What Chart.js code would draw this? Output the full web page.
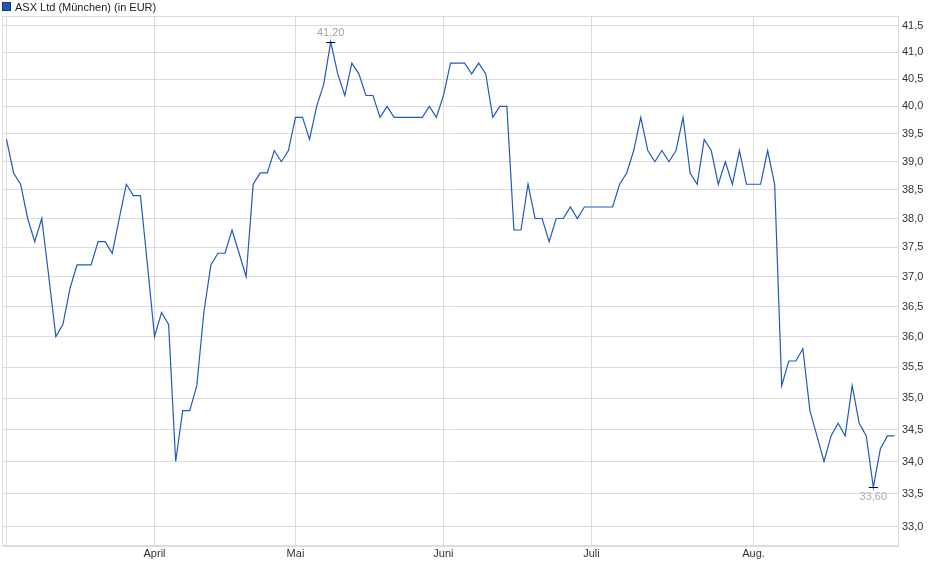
<!DOCTYPE html>
<html>
<head>
<meta charset="utf-8">
<script src="https://cdn.jsdelivr.net/npm/chart.js@4.4.1/dist/chart.umd.min.js"></script>
<style>
html,body{margin:0;padding:0;background:#fff}
#wrap{width:940px;height:579px;position:relative}
</style>
</head>
<body>
<div id="wrap"><canvas id="c"></canvas></div>
<script>
const seriesName = 'ASX Ltd (München) (in EUR)';

const dates = [
'03.03.2025','04.03.2025','05.03.2025','06.03.2025','07.03.2025','10.03.2025','11.03.2025','12.03.2025','13.03.2025','14.03.2025',
'17.03.2025','18.03.2025','19.03.2025','20.03.2025','21.03.2025','24.03.2025','25.03.2025','26.03.2025','27.03.2025','28.03.2025','31.03.2025',
'01.04.2025','02.04.2025','03.04.2025','04.04.2025','07.04.2025','08.04.2025','09.04.2025','10.04.2025','11.04.2025',
'14.04.2025','15.04.2025','16.04.2025','17.04.2025','22.04.2025','23.04.2025','24.04.2025','25.04.2025','28.04.2025','29.04.2025','30.04.2025',
'02.05.2025','05.05.2025','06.05.2025','07.05.2025','08.05.2025','09.05.2025','12.05.2025','13.05.2025','14.05.2025','15.05.2025','16.05.2025',
'19.05.2025','20.05.2025','21.05.2025','22.05.2025','23.05.2025','26.05.2025','27.05.2025','28.05.2025','29.05.2025','30.05.2025',
'02.06.2025','03.06.2025','04.06.2025','05.06.2025','06.06.2025','09.06.2025','10.06.2025','11.06.2025','12.06.2025','13.06.2025',
'16.06.2025','17.06.2025','18.06.2025','19.06.2025','20.06.2025','23.06.2025','24.06.2025','25.06.2025','26.06.2025','27.06.2025','30.06.2025',
'01.07.2025','02.07.2025','03.07.2025','04.07.2025','07.07.2025','08.07.2025','09.07.2025','10.07.2025','11.07.2025',
'14.07.2025','15.07.2025','16.07.2025','17.07.2025','18.07.2025','21.07.2025','22.07.2025','23.07.2025','24.07.2025','25.07.2025',
'28.07.2025','29.07.2025','30.07.2025','31.07.2025',
'01.08.2025','04.08.2025','05.08.2025','06.08.2025','07.08.2025','08.08.2025','11.08.2025','12.08.2025','13.08.2025','14.08.2025','15.08.2025',
'18.08.2025','19.08.2025','20.08.2025','21.08.2025','22.08.2025','25.08.2025','26.08.2025','27.08.2025','28.08.2025','29.08.2025'
];

const prices = [
39.4, 38.8, 38.6, 38.0, 37.6, 38.0, 37.0, 36.0, 36.2, 36.8,
37.2, 37.2, 37.2, 37.6, 37.6, 37.4, 38.0, 38.6, 38.4, 38.4,
37.2, 36.0, 36.4, 36.2, 34.0, 34.8, 34.8, 35.2, 36.4, 37.2,
37.4, 37.4, 37.8, 37.4, 37.0, 38.6, 38.8, 38.8, 39.2, 39.0,
39.2, 39.8, 39.8, 39.4, 40.0, 40.4, 41.2, 40.6, 40.2, 40.8,
40.6, 40.2, 40.2, 39.8, 40.0, 39.8, 39.8, 39.8, 39.8, 39.8,
40.0, 39.8, 40.2, 40.8, 40.8, 40.8, 40.6, 40.8, 40.6, 39.8,
40.0, 40.0, 37.8, 37.8, 38.6, 38.0, 38.0, 37.6, 38.0, 38.0,
38.2, 38.0, 38.2, 38.2, 38.2, 38.2, 38.2, 38.6, 38.8, 39.2,
39.8, 39.2, 39.0, 39.2, 39.0, 39.2, 39.8, 38.8, 38.6, 39.4,
39.2, 38.6, 39.0, 38.6, 39.2, 38.6, 38.6, 38.6, 39.2, 38.6,
35.2, 35.6, 35.6, 35.8, 34.8, 34.4, 34.0, 34.4, 34.6, 34.4,
35.2, 34.6, 34.4, 33.6, 34.2, 34.4, 34.4
];

const yTickValues = [33.0, 33.5, 34.0, 34.5, 35.0, 35.5, 36.0, 36.5, 37.0, 37.5, 38.0, 38.5, 39.0, 39.5, 40.0, 40.5, 41.0, 41.5];
const monthKeys = ['03', '04', '05', '06', '07', '08'];
const monthLabels = ['', 'April', 'Mai', 'Juni', 'Juli', 'Aug.'];
const yMin = 32.71;
const yMax = 41.69;

const FONT = "'Liberation Sans', Arial, sans-serif";
const GRID = '#dcdcdc';
const LINE = '#1f59c2';

const monthStartIdx = monthKeys.map(k => dates.findIndex(d => d.slice(3, 5) === k));
const fmt = (v, n) => Number(v).toFixed(n).replace('.', ',');

const decor = {
  id: 'decor',
  afterDatasetsDraw(chart) {
    const ctx = chart.ctx;
    const xs = chart.scales.x, ys = chart.scales.y;
    const data = chart.data.datasets[0].data;
    let iMax = 0, iMin = 0;
    data.forEach((v, i) => { if (v > data[iMax]) iMax = i; if (v < data[iMin]) iMin = i; });
    ctx.save();
    ctx.font = '11px ' + FONT;
    ctx.textAlign = 'center';
    ctx.textBaseline = 'middle';
    const mark = (i, above, color) => {
      const px = xs.getPixelForValue(i);
      const py = ys.getPixelForValue(data[i]);
      ctx.strokeStyle = '#000';
      ctx.lineWidth = 1;
      ctx.beginPath();
      ctx.moveTo(px - 4.5, Math.round(py) + 0.5);
      ctx.lineTo(px + 4.5, Math.round(py) + 0.5);
      ctx.stroke();
      ctx.fillStyle = color;
      ctx.fillText(fmt(data[i], 2), px, above ? py - 8.5 : py + 10);
    };
    mark(iMax, true, '#ab9f94');
    mark(iMin, false, '#a7b0ba');
    ctx.restore();
  },
  afterDraw(chart) {
    const ctx = chart.ctx;
    const a = chart.chartArea;
    ctx.save();
    ctx.strokeStyle = GRID;
    ctx.lineWidth = 1;
    ctx.strokeRect(Math.round(a.left) - 0.5, Math.round(a.top) + 0.5, Math.round(a.right - a.left) + 1, Math.round(a.bottom - a.top) - 1);
    // legend
    ctx.fillStyle = '#2157bd';
    ctx.fillRect(3, 3, 7, 7);
    ctx.strokeStyle = '#1a3468';
    ctx.strokeRect(2.5, 2.5, 8, 8);
    ctx.fillStyle = '#222';
    ctx.font = '11px ' + FONT;
    ctx.textAlign = 'left';
    ctx.textBaseline = 'alphabetic';
    ctx.fillText(chart.data.datasets[0].label, 15, 10.5);
    ctx.restore();
  }
};

new Chart(document.getElementById('c'), {
  type: 'line',
  data: {
    labels: dates,
    datasets: [{
      label: seriesName,
      data: prices,
      borderColor: LINE,
      borderWidth: 1.2,
      pointRadius: 0,
      pointHoverRadius: 0,
      tension: 0,
      fill: false
    }]
  },
  options: {
    responsive: true,
    maintainAspectRatio: false,
    animation: false,
    events: [],
    layout: { padding: { left: 3, top: 16, right: 0, bottom: 0 } },
    plugins: { legend: { display: false }, tooltip: { enabled: false }, title: { display: false } },
    scales: {
      x: {
        type: 'category',
        offset: true,
        grid: { offset: false, color: GRID, drawTicks: false, lineWidth: 1 },
        border: { display: true, color: GRID },
        ticks: {
          autoSkip: false, maxRotation: 0, padding: 1, color: '#333',
          font: { size: 11, family: FONT },
          callback: (v) => { const i = monthStartIdx.indexOf(v); return i >= 0 ? monthLabels[i] : ''; }
        },
        afterBuildTicks: (s) => { s.ticks = monthStartIdx.map(i => ({ value: i })); },
        afterFit: (s) => { s.height = 33; }
      },
      y: {
        type: 'logarithmic',
        position: 'right',
        min: yMin,
        max: yMax,
        bounds: 'data',
        grid: { color: GRID, drawTicks: false, lineWidth: 1 },
        border: { display: true, color: GRID },
        ticks: {
          autoSkip: false, padding: 4, color: '#333',
          font: { size: 11, family: FONT },
          callback: (v) => fmt(v, 1)
        },
        afterBuildTicks: (s) => { s.ticks = yTickValues.map(v => ({ value: v })); },
        afterFit: (s) => { s.width = 42; }
      }
    }
  },
  plugins: [decor]
});
</script>
</body>
</html>
